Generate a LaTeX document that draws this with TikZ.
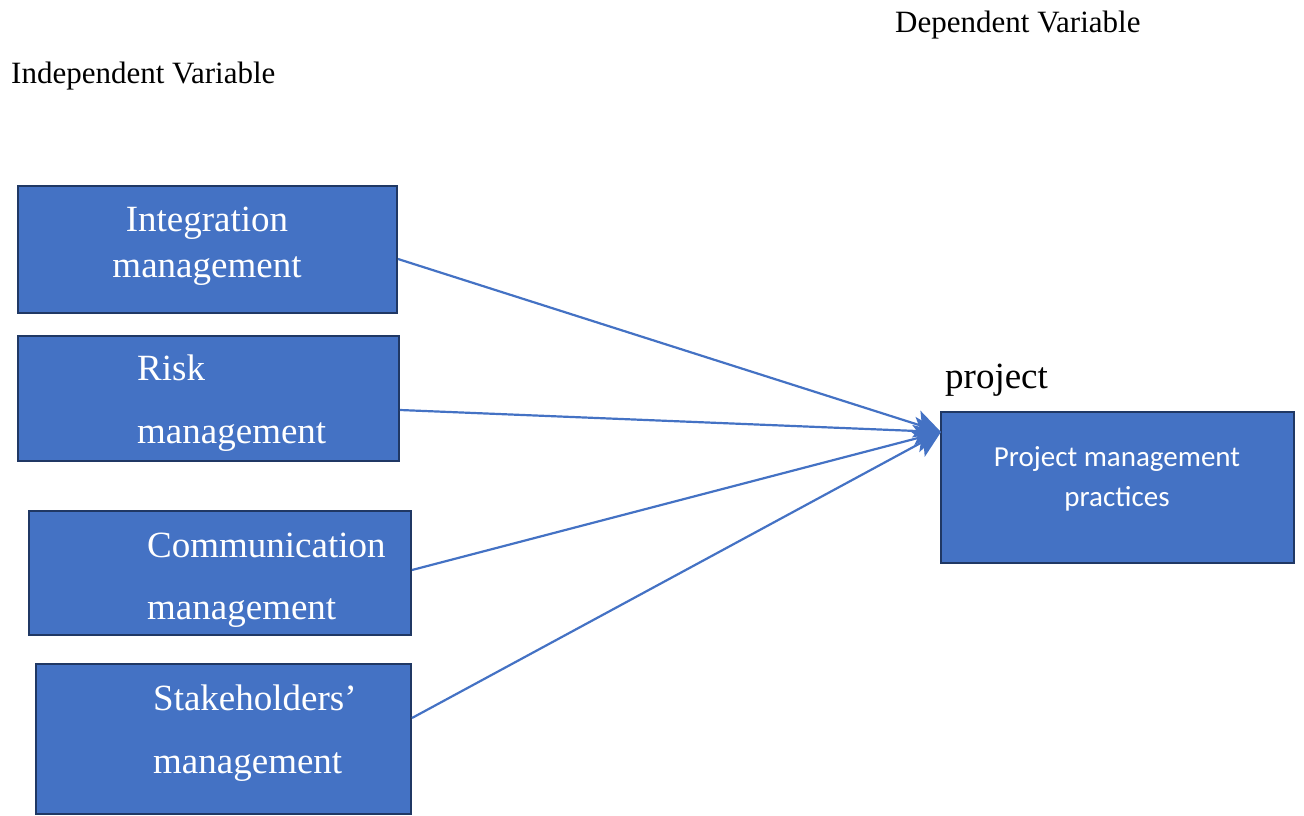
\documentclass[tikz,border=0pt]{standalone}
\usepackage{fontspec}
\setmainfont{Liberation Serif}
\newfontfamily\carlito{Carlito}
\usetikzlibrary{arrows.meta}
\definecolor{boxblue}{HTML}{4472C4}
\definecolor{boxedge}{HTML}{203864}
\tikzset{
  varbox/.style={draw=boxedge, line width=2pt, fill=boxblue, rectangle, inner sep=0pt},
  boxtext/.style={text=white, inner sep=0pt, font=\fontsize{37}{44}\selectfont},
  headtext/.style={text=black, inner sep=0pt, font=\fontsize{31}{37}\selectfont, anchor=base west},
  link/.style={draw=boxblue, line width=2.2pt, -{Stealth[length=26pt,width=28pt,inset=6pt]}}
}
\begin{document}
\begin{tikzpicture}[x=1pt,y=-1pt]
\useasboundingbox (0,0) rectangle (1304,816);
% headings
\node[headtext] (dep) at (895,33) {Dependent Variable};
\node[headtext] (indep) at (11,84) {Independent Variable};
% boxes
\node[varbox, minimum width=379pt, minimum height=127pt] (int) at (207.5,249.5) {};
\node[varbox, minimum width=381pt, minimum height=125pt] (risk) at (208.5,398.5) {};
\node[varbox, minimum width=382pt, minimum height=124pt] (comm) at (220,573) {};
\node[varbox, minimum width=375pt, minimum height=150pt] (stake) at (223.5,739) {};
\node[varbox, minimum width=353pt, minimum height=151pt] (pmp) at (1117.5,487.5) {};
% box texts
\node[boxtext, anchor=base] (int1) at (207,231) {Integration};
\node[boxtext, anchor=base] (int2) at (207,277) {management};
\node[boxtext, anchor=base west] (risk1) at (137,380) {Risk};
\node[boxtext, anchor=base west] (risk2) at (137,443) {management};
\node[boxtext, anchor=base west] (comm1) at (147,557) {Communication};
\node[boxtext, anchor=base west] (comm2) at (147,619) {management};
\node[boxtext, anchor=base west] (stake1) at (153,710) {Stakeholders’};
\node[boxtext, anchor=base west] (stake2) at (153,773) {management};
\node[text=white, inner sep=0pt, anchor=base, font=\carlito\fontsize{29}{35}\selectfont] (pmp1) at (1117,466) {Project management};
\node[text=white, inner sep=0pt, anchor=base, font=\carlito\fontsize{29}{35}\selectfont] (pmp2) at (1117,506) {practices};
% label above target
\node[boxtext, text=black, anchor=base west] (proj) at (945,388) {project};
% connectors
\coordinate (tip) at (941,432);
\draw[link] ([yshift=-9.5pt]int.east) -- (tip);
\draw[link] ([yshift=-11.5pt]risk.east) -- (tip);
\draw[link] ([yshift=3pt]comm.east) -- (tip);
\draw[link] ([yshift=21pt]stake.east) -- (tip);
\end{tikzpicture}
\end{document}
